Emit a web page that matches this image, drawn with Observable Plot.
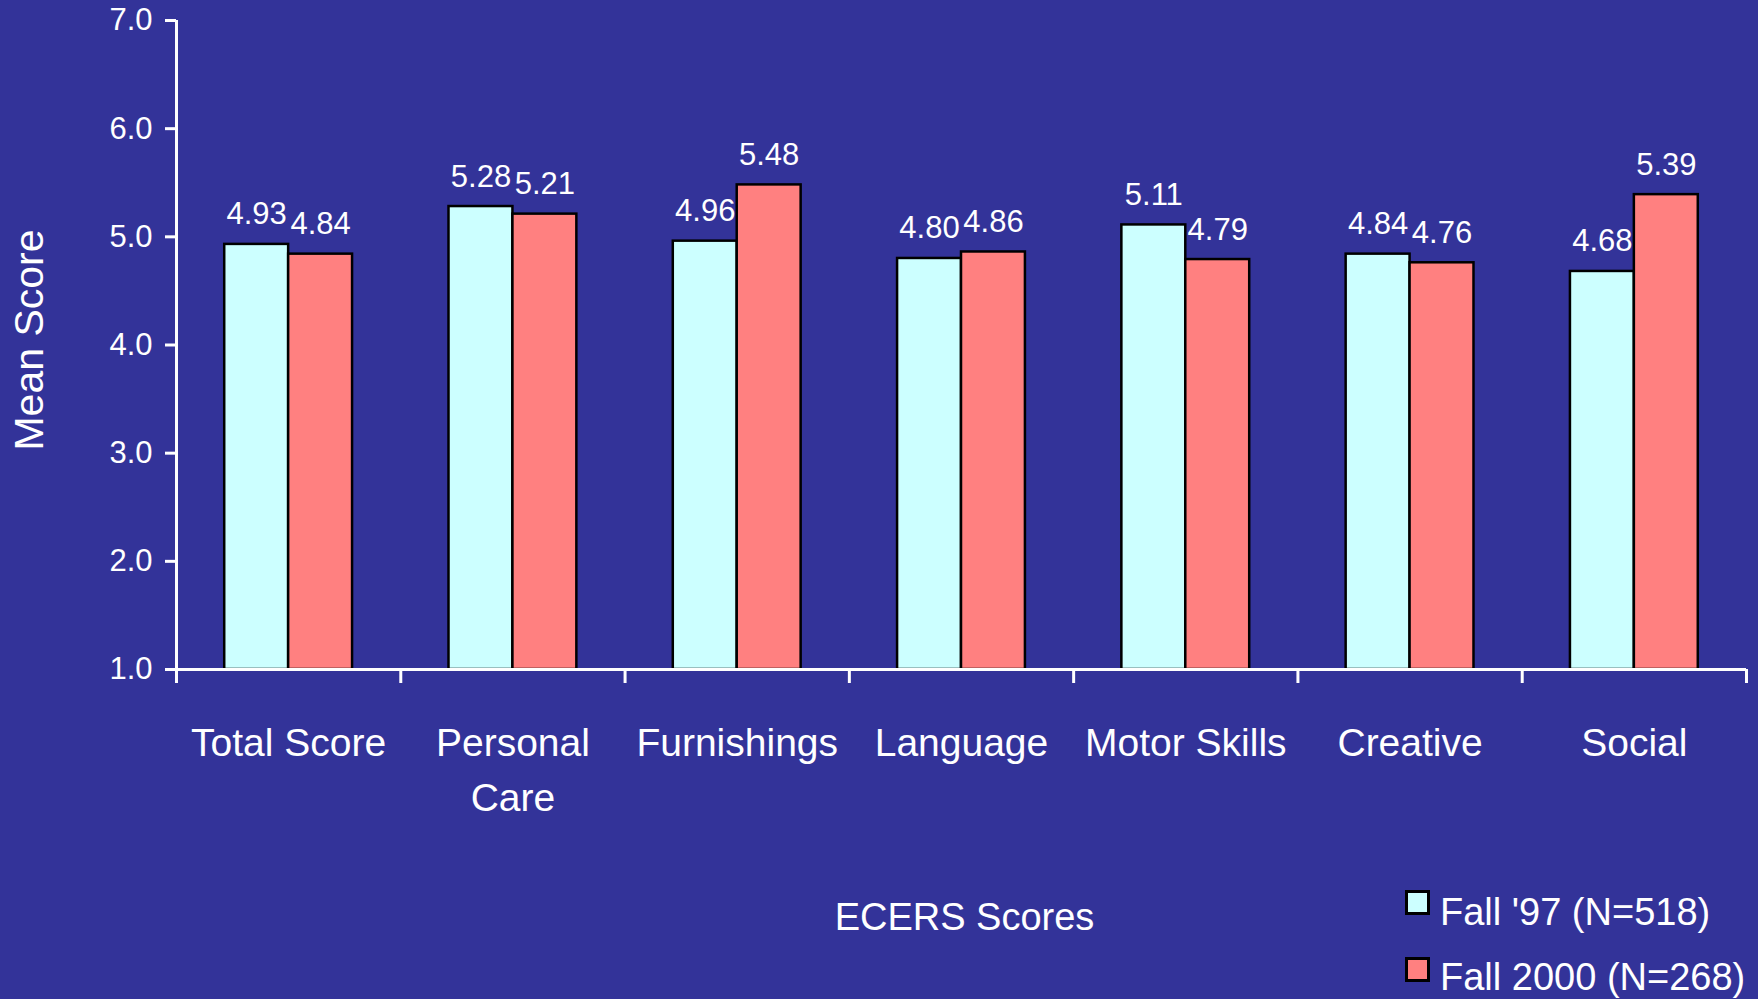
<!DOCTYPE html>
<html>
<head>
<meta charset="utf-8">
<script src="https://cdn.jsdelivr.net/npm/d3@7"></script>
<script src="https://cdn.jsdelivr.net/npm/@observablehq/plot@0.6"></script>
<style>
  html, body { margin: 0; padding: 0; background: #333399; }
  body { width: 1758px; height: 999px; position: relative; overflow: hidden; font-family: "Liberation Sans", Arial, sans-serif; }
  #chart svg { display: block; }
  .lg-sq { position: absolute; width: 25px; height: 25px; box-sizing: border-box; border: 3px solid #000; }
  .lg-tx { position: absolute; color: #fff; font-size: 38px; line-height: 38px; white-space: nowrap; }
</style>
</head>
<body>
<div id="chart"></div>
<div id="legend"></div>
<script>
// ---- data ----
const categories = ["Total Score", "Personal Care", "Furnishings", "Language", "Motor Skills", "Creative", "Social"];
const tickLabels = ["Total Score", "Personal\nCare", "Furnishings", "Language", "Motor Skills", "Creative", "Social"];
const seriesNames = ["Fall '97 (N=518)", "Fall 2000 (N=268)"];
const fall97 = [4.93, 5.28, 4.96, 4.80, 5.11, 4.84, 4.68];
const fall2000 = [4.84, 5.21, 5.48, 4.86, 4.79, 4.76, 5.39];
const yTicks = [1, 2, 3, 4, 5, 6, 7];
const seriesColors = ["#CCFFFF", "#FF8080"];

// ---- table ----
const rows = [];
categories.forEach((c, i) => {
  rows.push({cat: c, i, s: 0, series: seriesNames[0], value: fall97[i]});
  rows.push({cat: c, i, s: 1, series: seriesNames[1], value: fall2000[i]});
});

const barW = 0.285; // fraction of category slot per bar
const x1 = d => d.i + 0.5 + (d.s === 0 ? -barW : 0);
const x2 = d => d.i + 0.5 + (d.s === 0 ? 0 : barW);
const xc = d => (x1(d) + x2(d)) / 2;

const chart = Plot.plot({
  width: 1758,
  height: 999,
  marginLeft: 176,
  marginRight: 12,
  marginTop: 20,
  marginBottom: 330,
  style: {background: "#333399", color: "white", fontFamily: "Liberation Sans, Arial, sans-serif"},
  x: {type: "linear", domain: [0, categories.length], axis: null},
  y: {domain: [1, 7], axis: null},
  color: {domain: seriesNames, range: seriesColors},
  marks: [
    Plot.rectY(rows, {x1, x2, y1: 1, y2: "value", fill: "series", stroke: "black", strokeWidth: 2.5}),
    Plot.text(rows, {x: xc, y: "value", text: d => d.value.toFixed(2), dy: -20, lineAnchor: "bottom", fontSize: 31, fill: "white"}),
    Plot.axisY({ticks: yTicks, tickFormat: d3.format(".1f"), tickSize: 11, tickPadding: 13, fontSize: 31, stroke: "white", strokeWidth: 3, fill: "white", label: null}),
    Plot.axisX({ticks: d3.range(categories.length + 1), tickFormat: () => "", tickSize: 14, stroke: "white", strokeWidth: 3, label: null}),
    Plot.ruleX([0], {y1: 1, y2: 7, stroke: "white", strokeWidth: 3}),
    Plot.ruleY([1], {x1: 0, x2: categories.length, stroke: "white", strokeWidth: 3}),
    Plot.text(tickLabels, {x: (d, i) => i + 0.5, frameAnchor: "bottom", dy: 47, lineAnchor: "top", fontSize: 39, lineHeight: 1.42, fill: "white"}),
    Plot.text(["Mean Score"], {frameAnchor: "left", textAnchor: "middle", rotate: -90, dx: -147, dy: -5, lineAnchor: "middle", fontSize: 41, fill: "white"}),
    Plot.text(["ECERS Scores"], {frameAnchor: "bottom", dx: 3, dy: 248, lineAnchor: "middle", fontSize: 38, fill: "white"})
  ]
});
document.getElementById("chart").appendChild(chart);

// ---- legend ----
const legend = document.getElementById("legend");
seriesNames.forEach((name, k) => {
  const sq = document.createElement("div");
  sq.className = "lg-sq";
  sq.style.left = "1405px";
  sq.style.top = (890 + k * 67) + "px";
  sq.style.background = seriesColors[k];
  legend.appendChild(sq);
  const tx = document.createElement("div");
  tx.className = "lg-tx";
  tx.style.left = "1440px";
  tx.style.top = (893 + k * 65) + "px";
  tx.textContent = name;
  legend.appendChild(tx);
});
</script>
</body>
</html>
